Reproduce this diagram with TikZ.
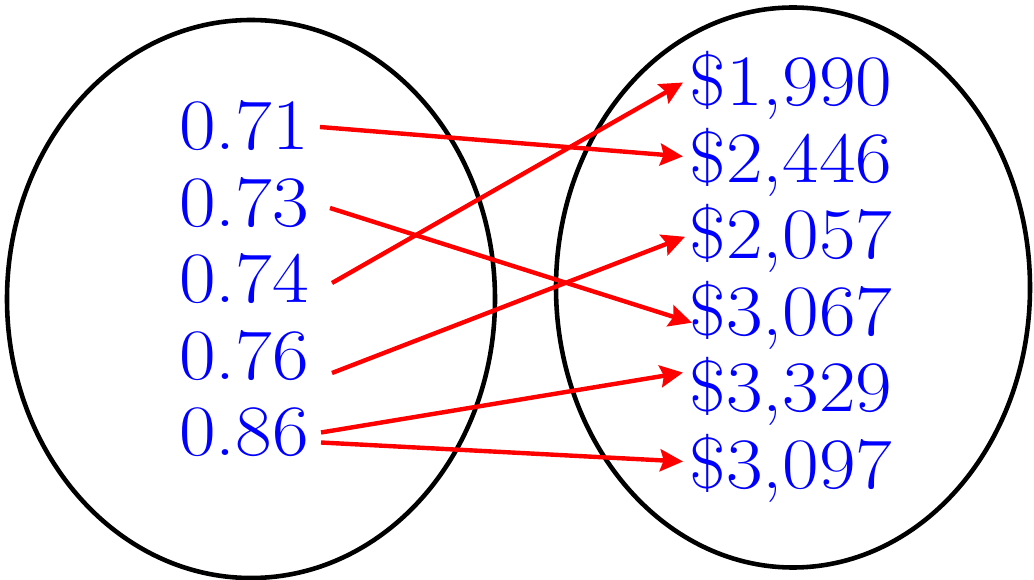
\documentclass[tikz,border=0pt]{standalone}
\usepackage{fontspec}
\newfontfamily\labfont[Extension=.otf,FakeStretch=1.1]{lmroman17-regular}
\usetikzlibrary{arrows.meta,calc}
\begin{document}
\begin{tikzpicture}[x=0.02cm,y=-0.02cm,
  setellipse/.style={draw=black,line width=2.6pt},
  lab/.style={text=blue,inner sep=0pt,anchor=base,text height=0.94cm,text depth=0cm,
    font=\labfont\fontsize{41.2pt}{41.2pt}\selectfont},
  arr/.style={draw=red,line width=2.5pt,-{Stealth[length=13pt,width=12.5pt,inset=2pt]}}]
\useasboundingbox (0,0) rectangle (1034,580);
\draw[setellipse] (251,299) ellipse [x radius=244,y radius=279];
\draw[setellipse] (793,287.5) ellipse [x radius=237,y radius=280];
% left labels
\node[lab] (l1) at (244,150) {0.71};
\node[lab] (l2) at (244,226.5) {0.73};
\node[lab] (l3) at (244,303) {0.74};
\node[lab] (l4) at (244,379.5) {0.76};
\node[lab] (l5) at (244,456) {0.86};
% right labels
\node[lab] (r1) at (791,106) {\$1,990};
\node[lab] (r2) at (791,182.4) {\$2,446};
\node[lab] (r3) at (791,258.8) {\$2,057};
\node[lab] (r4) at (791,335.2) {\$3,067};
\node[lab] (r5) at (791,411.6) {\$3,329};
\node[lab] (r6) at (791,488) {\$3,097};
% arrows
\draw[arr] ($(l1.center)+(76,0.5)$) -- ($(r2.center)+(-108,-2.5)$);
\draw[arr] ($(l2.center)+(86,5)$) -- ($(r4.center)+(-99,11)$);
\draw[arr] ($(l3.center)+(88,3.5)$) -- ($(r1.center)+(-108,0)$);
\draw[arr] ($(l4.center)+(88,17)$) -- ($(r3.center)+(-106,1.5)$);
\draw[arr] ($(l5.center)+(77,0)$) -- ($(r5.center)+(-108,-15.5)$);
\draw[arr] ($(l5.center)+(77,10)$) -- ($(r6.center)+(-108,-3)$);
\end{tikzpicture}
\end{document}
